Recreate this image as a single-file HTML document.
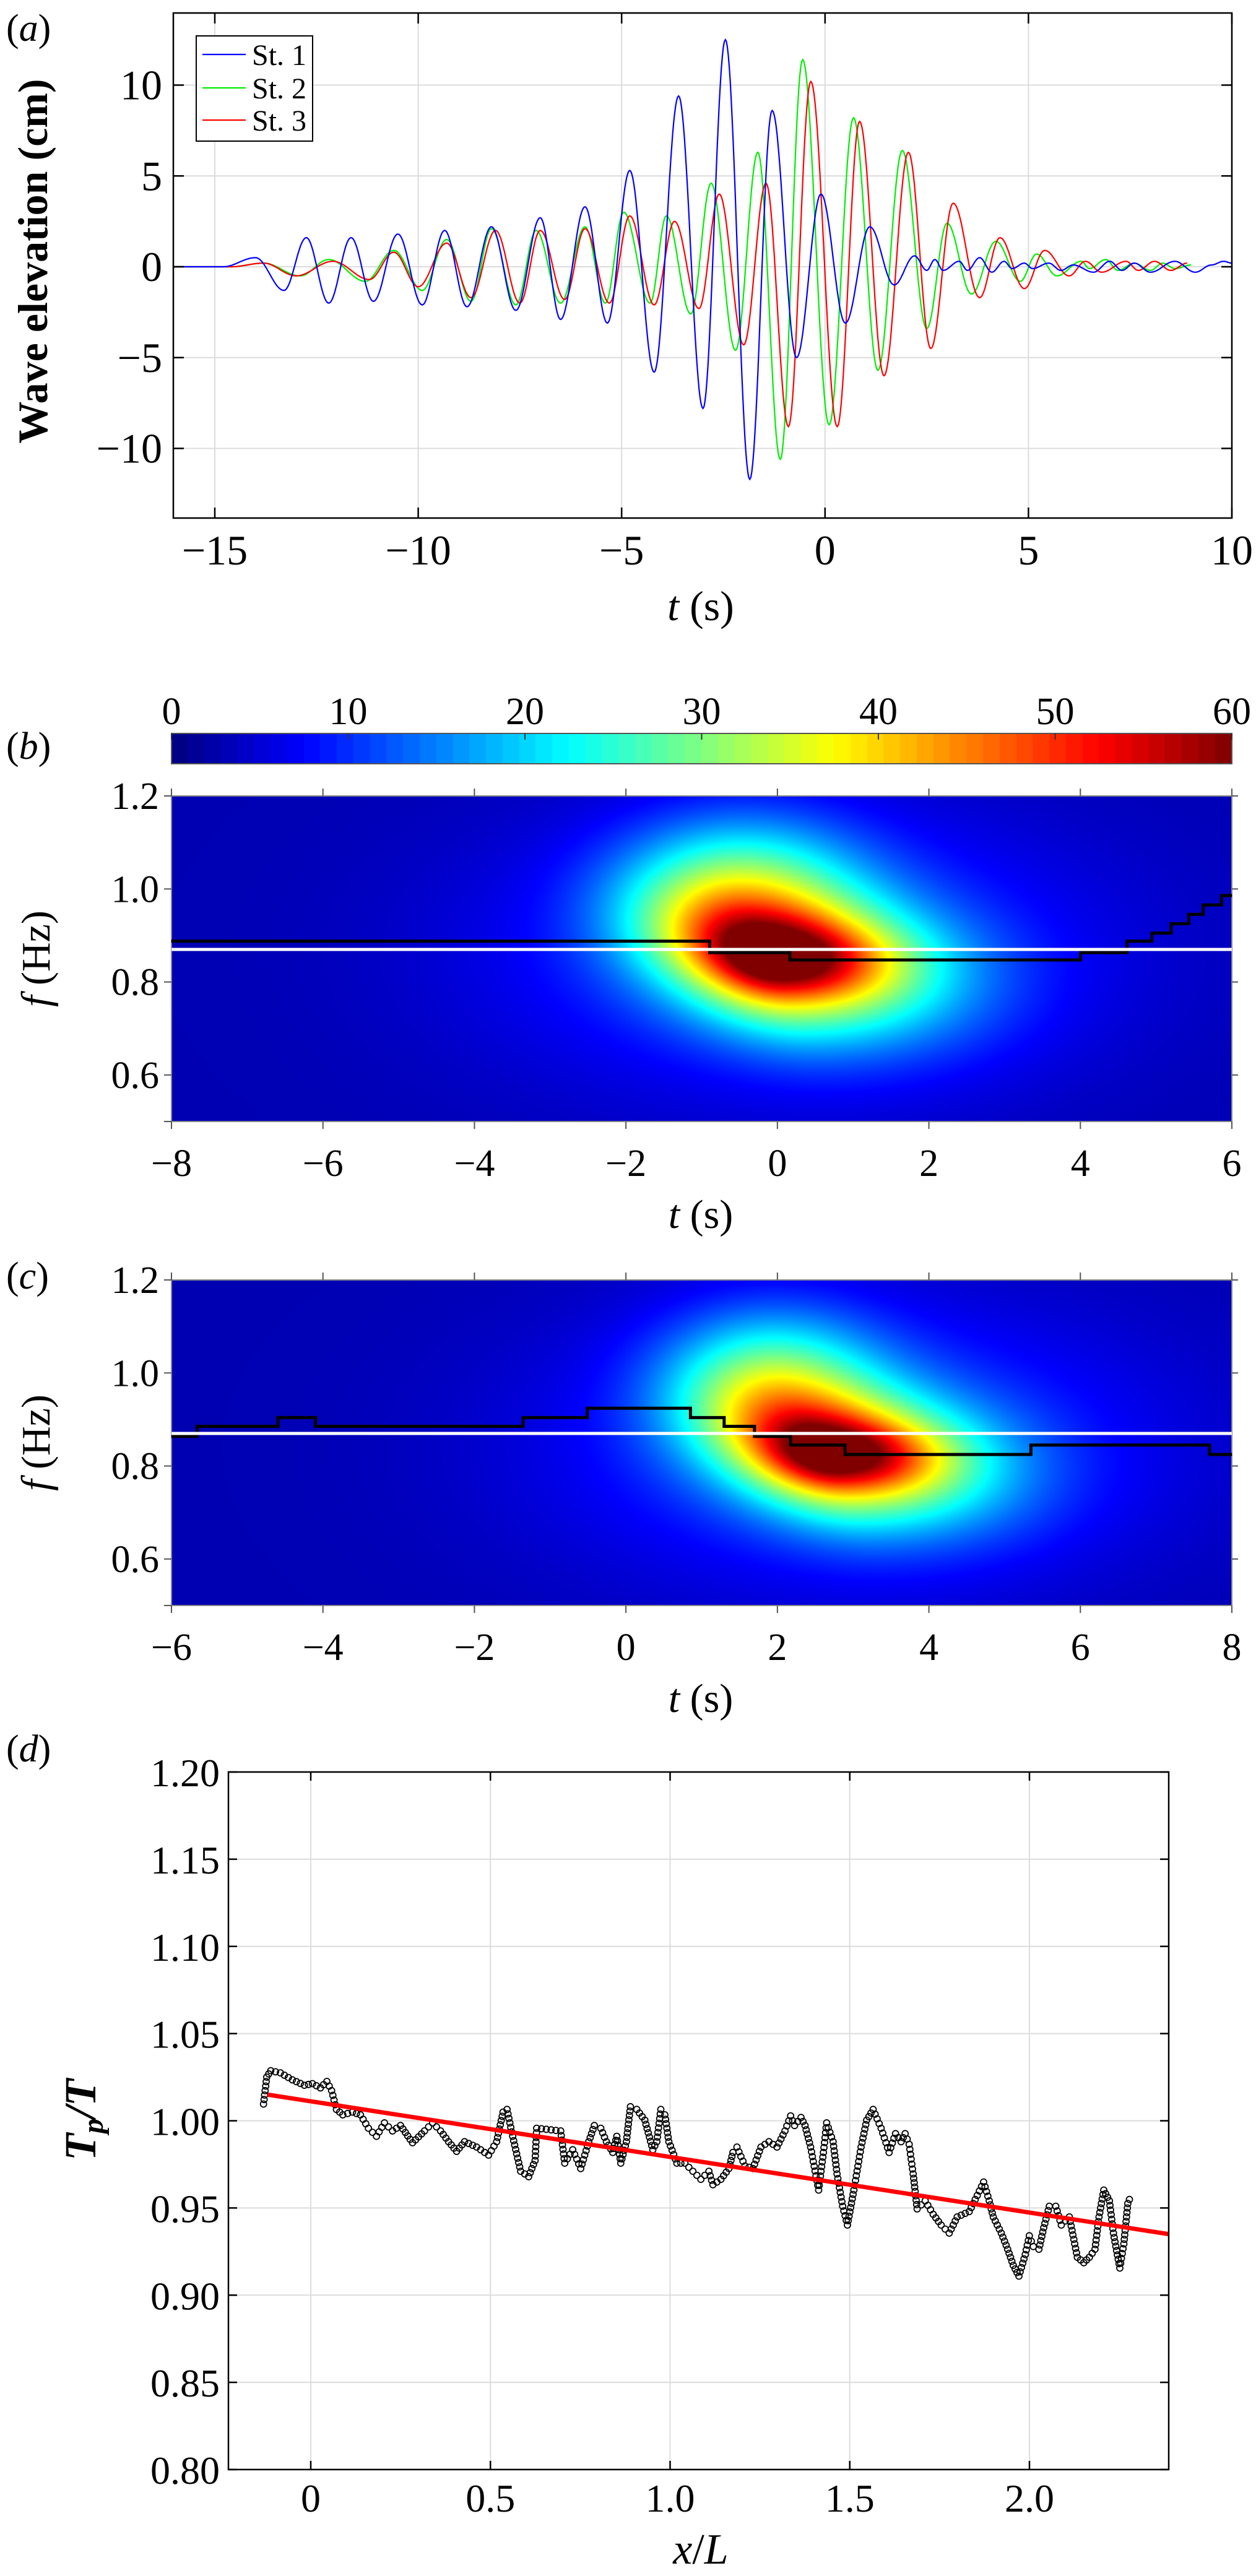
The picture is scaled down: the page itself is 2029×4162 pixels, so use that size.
<!DOCTYPE html>
<html><head><meta charset="utf-8">
<style>
html,body{margin:0;padding:0;background:#fff;}
#wrap{position:relative;width:2029px;height:4162px;overflow:hidden;}
canvas{position:absolute;}
svg{position:absolute;left:0;top:0;}
text{font-family:"Liberation Serif","DejaVu Serif",serif;fill:#000;}
</style></head><body>
<div id="wrap">
<canvas id="cb" width="1713" height="526" style="left:277px;top:1286px;"></canvas>
<canvas id="cc" width="1713" height="526" style="left:277px;top:2068px;"></canvas>
<canvas id="cbar" width="1713" height="49" style="left:277px;top:1185px;"></canvas>
<svg id="s" width="2029" height="4162" xmlns="http://www.w3.org/2000/svg"></svg>
</div>
<script>
const S=document.getElementById('s');
let out='';
function L(x1,y1,x2,y2,c,w){out+=`<line x1="${x1}" y1="${y1}" x2="${x2}" y2="${y2}" stroke="${c}" stroke-width="${w}"/>`;}
function T(x,y,s,fs,anch,extra){out+=`<text x="${x}" y="${y}" font-size="${fs}" text-anchor="${anch||'middle'}" ${extra||''}>${s}</text>`;}
function jet(v){v=Math.max(0,Math.min(1,v));let r=Math.min(4*v-1.5,-4*v+4.5),g=Math.min(4*v-0.5,-4*v+3.5),b=Math.min(4*v+0.5,-4*v+2.5);
return [255*Math.max(0,Math.min(1,r)),255*Math.max(0,Math.min(1,g)),255*Math.max(0,Math.min(1,b))];}
// ---------- Panel a ----------
const aL=280,aR=1990,aT=21,aB=837;
const ax=t=>347+(t+15)*65.72, ay=v=>431-v*29.35;
for(let t=-15;t<=10;t+=5){L(ax(t),aT,ax(t),aB,'#dcdcdc',2);}
for(let v=-10;v<=10;v+=5){L(aL,ay(v),aR,ay(v),'#dcdcdc',2);}
function smooth(ext){let pts=[];for(let i=0;i<ext.length-1;i++){const [t0,v0]=ext[i],[t1,v1]=ext[i+1];const n=Math.max(4,Math.ceil((t1-t0)*40));
for(let k=0;k<n;k++){const u=k/n;const w=(1-Math.cos(Math.PI*u))/2;pts.push([t0+(t1-t0)*u,v0+(v1-v0)*w]);}}
pts.push(ext[ext.length-1]);return pts.map(p=>ax(p[0]).toFixed(1)+','+ay(p[1]).toFixed(1)).join(' ');}
const s1=[[-16,0],[-14.8,0],[-14,0.5],[-13.3,-1.3],[-12.75,1.6],[-12.2,-2.0],[-11.65,1.6],[-11.1,-1.9],[-10.5,1.8],[-9.9,-2.1],[-9.35,2.0],[-8.8,-2.2],[-8.2,2.2],[-7.6,-2.4],[-7.0,2.7],[-6.5,-2.9],[-5.9,3.3],[-5.35,-3.1],[-4.8,5.3],[-4.2,-5.8],[-3.6,9.4],[-3.0,-7.8],[-2.45,12.5],[-1.85,-11.7],[-1.3,8.6],[-0.7,-5.0],[-0.1,4.0],[0.5,-3.1],[1.1,2.2],[1.7,-1.0],[2.2,0.6],[2.5,-0.2],[2.7,0.4],[2.9,-0.2],[3.3,0.3],[3.5,-0.2],[3.8,0.5],[4.1,-0.3],[4.4,0.3],[4.6,-0.1],[4.9,0.2],[5.1,-0.1],[5.5,0.2],[5.8,-0.2],[6.1,0.1],[6.6,-0.3],[7.0,0.3],[7.3,-0.2],[7.6,0.2],[8.0,-0.3],[8.6,0.3],[9.1,-0.3],[9.5,0.1],[9.8,0.3],[10,0.2]];
const s2=[[-16,0],[-14.6,0],[-13.8,0.2],[-12.9,-0.5],[-12.2,0.4],[-11.3,-0.8],[-10.6,0.9],[-9.9,-1.3],[-9.3,1.5],[-8.7,-1.9],[-8.2,2.1],[-7.6,-2.1],[-7.1,2.0],[-6.5,-2.0],[-5.9,2.2],[-5.4,-2.0],[-4.95,3.0],[-4.3,-2.0],[-3.9,2.8],[-3.3,-2.6],[-2.8,4.6],[-2.2,-4.6],[-1.65,6.3],[-1.1,-10.6],[-0.55,11.4],[0.1,-8.7],[0.7,8.2],[1.3,-5.7],[1.9,6.4],[2.5,-3.4],[3.0,2.4],[3.6,-1.5],[4.2,1.4],[4.8,-0.8],[5.2,0.7],[5.7,-0.5],[6.3,0.3],[6.5,-0.1],[6.9,0.4],[7.2,-0.2],[7.6,0.2],[8.0,-0.2],[8.3,0.2],[8.6,-0.1],[9.0,0.1]];
const s3=[[-16,0],[-14.6,0],[-13.8,0.2],[-13.0,-0.5],[-12.1,0.3],[-11.2,-0.7],[-10.6,0.8],[-10.0,-1.1],[-9.3,1.3],[-8.7,-1.7],[-8.1,2.0],[-7.5,-2.0],[-7.0,2.0],[-6.4,-1.8],[-5.9,2.1],[-5.3,-2.0],[-4.8,2.8],[-4.2,-2.1],[-3.7,2.5],[-3.1,-2.3],[-2.6,4.0],[-2.0,-4.3],[-1.45,4.6],[-0.9,-8.8],[-0.35,10.2],[0.3,-8.8],[0.85,8.0],[1.45,-6.0],[2.05,6.3],[2.6,-4.5],[3.15,3.5],[3.8,-1.7],[4.3,1.6],[4.9,-1.2],[5.4,0.9],[6.0,-0.5],[6.4,0.3],[6.8,-0.3],[7.4,0.3],[7.7,-0.2],[8.1,0.3],[8.5,-0.2],[8.9,0.2]];
out+=`<polyline points="${smooth(s2)}" fill="none" stroke="#00ee00" stroke-width="2.2"/>`;
out+=`<polyline points="${smooth(s3)}" fill="none" stroke="#ff0000" stroke-width="2.2"/>`;
out+=`<polyline points="${smooth(s1)}" fill="none" stroke="#0000ff" stroke-width="2.2"/>`;
out+=`<rect x="${aL}" y="${aT}" width="${aR-aL}" height="${aB-aT}" fill="none" stroke="#000" stroke-width="2.5"/>`;
for(let t=-15;t<=10;t+=5){L(ax(t),aB,ax(t),aB-17,'#000',2.5);L(ax(t),aT,ax(t),aT+17,'#000',2.5);T(ax(t),912,(t<0?'−':'')+Math.abs(t),68);}
for(let v=-10;v<=10;v+=5){L(aL,ay(v),aL+17,ay(v),'#000',2.5);L(aR,ay(v),aR-17,ay(v),'#000',2.5);T(aL-18,ay(v)+23,(v<0?'−':'')+Math.abs(v),68,'end');}
out+=`<rect x="317" y="58" width="188" height="170" fill="#fff" stroke="#000" stroke-width="2"/>`;
[['#0000ff','St. 1',88],['#00ee00','St. 2',142],['#ff0000','St. 3',194]].forEach(e=>{L(327,e[2],397,e[2],e[0],2.2);T(407,e[2]+17,e[1],48,'start');});
T(1132,1002,'<tspan font-style="italic">t</tspan> (s)',68);
out+=`<text transform="translate(76,422) rotate(-90)" font-size="68" font-weight="bold" text-anchor="middle">Wave elevation (cm)</text>`;
T(10,66,'(<tspan font-style="italic">a</tspan>)',62,'start');
// ---------- colorbar ----------
const cbx=v=>277+v*1713/60;
out+=`<rect x="277" y="1185" width="1713" height="49" fill="none" stroke="#555" stroke-width="2"/>`;
for(let v=0;v<=60;v+=10){L(cbx(v),1185,cbx(v),1195,'#333',2);T(cbx(v),1170,v,62);}
T(10,1226,'(<tspan font-style="italic">b</tspan>)',62,'start');
T(10,2082,'(<tspan font-style="italic">c</tspan>)',62,'start');
// ---------- panels b,c ----------
function specPanel(top,t0,cvs,f,steps){
 const W=1713,H=526,left=277;const tx=t=>left+(t-t0)*W/14, fy=fr=>top+(1.2-fr)*H/0.7;
 const c=document.getElementById(cvs).getContext('2d');const img=c.createImageData(W,H);
 for(let j=0;j<H;j++){const fr=1.2-j*0.7/H;for(let i=0;i<W;i++){const t=t0+i*14/W;const v=f(t,fr);const col=jet(v/60);const k=(j*W+i)*4;img.data[k]=col[0];img.data[k+1]=col[1];img.data[k+2]=col[2];img.data[k+3]=255;}}
 c.putImageData(img,0,0);
 out+=`<rect x="${left}" y="${top}" width="${W}" height="${H}" fill="none" stroke="#888" stroke-width="2"/>`;
 for(let k=0;k<=7;k++){const t=t0+2*k;const x=tx(t);L(x,top,x,top-12,'#555',2);L(x,top+H,x,top+H+12,'#555',2);T(x,top+H+88,(t<0?'−':'')+Math.abs(t),62);}
 [0.6,0.8,1.0,1.2].forEach(fr=>{L(left,fy(fr),left-12,fy(fr),'#555',2);L(left+W,fy(fr),left+W+10,fy(fr),'#555',2);T(left-20,fy(fr)+21,fr.toFixed(1),62,'end');});
 L(left,fy(0.5),left-12,fy(0.5),'#555',2);
 out+=`<polyline points="${steps.map(p=>(p[0]/0.7728).toFixed(1)+','+(1100+p[1]/0.9224).toFixed(1)).join(' ')}" fill="none" stroke="#000" stroke-width="5"/>`;
 L(left,fy(0.87),left+W,fy(0.87),'#fff',5);
 T(1132,top+H+172,'<tspan font-style="italic">t</tspan> (s)',66);
 out+=`<text transform="translate(80,${top+H/2}) rotate(-90)" font-size="66" text-anchor="middle"><tspan font-style="italic">f</tspan> (Hz)</text>`;
}
function g(x,s){return Math.exp(-x*x/(2*s*s));}
function fb(t,f){const tc=-0.1-3*(f-0.86);const st=t<tc?1.0:1.45;const sf=f<0.855?0.115:0.095;
 const tc2=0.0-2*(f-0.85);
 return 3+34*g(t-tc,st)*g(f-0.855,sf)+18*g(t-tc2,t<tc2?0.6:0.9)*g(f-0.85,0.055)+20*g(t+0.5,1.1)*g(f-1.0,0.11)+10*g(t-0.2,2.6)*g(f-0.86,0.2);}
function fc(t,f){const tc=2.7-3*(f-0.83);const st=t<tc?0.95:1.35;const sf=f<0.83?0.105:0.095;
 const tc2=2.75-2*(f-0.825);
 return 3+34*g(t-tc,st)*g(f-0.83,sf)+18*g(t-tc2,t<tc2?0.6:0.85)*g(f-0.825,0.05)+20*g(t-1.9,1.0)*g(f-0.98,0.11)+10*g(t-3,2.6)*g(f-0.84,0.2);}
const stb=[[214,388],[886,388],[886,405],[986,405],[986,416],[1349,416],[1349,405],[1407,405],[1407,388],[1438,388],[1438,376],[1462,376],[1462,362],[1484,362],[1484,348],[1502,348],[1502,334],[1525,334],[1525,320],[1538,320]];
const stc=[[214,1126],[246,1126],[246,1111],[347,1111],[347,1098],[394,1098],[394,1111],[653,1111],[653,1098],[733,1098],[733,1084],[862,1084],[862,1098],[904,1098],[904,1111],[942,1111],[942,1126],[987,1126],[987,1139],[1055,1139],[1055,1153],[1287,1153],[1287,1139],[1510,1139],[1510,1153],[1538,1153]];
specPanel(1286,-8,'cb',fb,stb);
specPanel(2068,-6,'cc',fc,stc);
{const c=document.getElementById('cbar').getContext('2d');for(let i=0;i<64;i++){const col=jet((i+0.5)/64);c.fillStyle=`rgb(${col.map(Math.round).join(',')})`;c.fillRect(Math.floor(i*1713/64),0,Math.ceil(1713/64)+1,49);}}
// ---------- Panel d ----------
const dL=369,dR=1888,dT=2863,dB=3990;
const dx=x=>502+x*580.5, dy=y=>dT+(1.2-y)*(dB-dT)/0.4;
for(let x=0;x<=2.01;x+=0.5)L(dx(x),dT,dx(x),dB,'#dcdcdc',2);
for(let k=0;k<=8;k++){const y=0.8+k*0.05;L(dL,dy(y),dR,dy(y),'#dcdcdc',2);}
const kp=[[329,690],[333,640],[338,628],[350,632],[365,645],[380,655],[390,652],[400,660],[408,648],[414,665],[420,700],[428,710],[440,705],[450,710],[460,735],[470,750],[480,725],[490,740],[500,730],[515,762],[530,740],[540,725],[550,740],[560,760],[570,778],[580,760],[595,770],[610,785],[620,760],[628,705],[633,700],[640,750],[650,815],[660,825],[668,795],[670,735],[700,740],[705,800],[715,775],[725,810],[735,760],[742,730],[750,735],[757,760],[765,780],[770,750],[775,800],[782,760],[787,695],[795,700],[805,720],[815,775],[820,760],[825,700],[830,710],[835,760],[845,800],[855,800],[865,815],[875,830],[885,815],[890,840],[900,830],[910,810],[915,780],[920,770],[930,805],[940,810],[950,770],[960,760],[970,770],[980,740],[987,712],[992,730],[1000,715],[1005,730],[1012,770],[1022,850],[1028,780],[1032,725],[1040,760],[1045,820],[1052,880],[1058,915],[1066,850],[1075,770],[1082,720],[1090,700],[1100,735],[1110,780],[1118,745],[1125,760],[1130,745],[1135,765],[1140,820],[1145,885],[1155,870],[1165,895],[1175,915],[1185,930],[1195,900],[1210,890],[1220,860],[1228,835],[1235,870],[1240,900],[1250,930],[1258,960],[1265,990],[1272,1010],[1280,970],[1285,935],[1290,955],[1297,960],[1303,920],[1310,880],[1318,880],[1325,915],[1335,900],[1345,975],[1353,985],[1360,975],[1367,960],[1372,900],[1378,850],[1385,870],[1390,930],[1398,995],[1403,950],[1408,875],[1412,860]].map(p=>[p[0]/0.7728,2800+p[1]/1.151]);
let circ='';
for(let i=0;i<kp.length-1;i++){const [x0,y0]=kp[i],[x1,y1]=kp[i+1];const d=Math.hypot(x1-x0,y1-y0);const n=Math.max(1,Math.round(d/7.5));
 for(let k=0;k<n;k++){const u=k/n;circ+=`<circle cx="${(x0+(x1-x0)*u).toFixed(1)}" cy="${(y0+(y1-y0)*u).toFixed(1)}" r="5"/>`;}}
out+=`<g fill="none" stroke="#000" stroke-width="1.8">${circ}</g>`;
L(dx(-0.12),dy(1.015),dR,dy(0.935),'#ff0000',7);
out+=`<rect x="${dL}" y="${dT}" width="${dR-dL}" height="${dB-dT}" fill="none" stroke="#000" stroke-width="2.5"/>`;
for(let k=0;k<=8;k++){const y=0.8+k*0.05;L(dL,dy(y),dL+14,dy(y),'#000',2.5);L(dR,dy(y),dR-14,dy(y),'#000',2.5);T(dL-14,dy(y)+23,y.toFixed(2),64,'end');}
['0','0.5','1.0','1.5','2.0'].forEach((s,i)=>{const x=dx(i*0.5);L(x,dB,x,dB-14,'#000',2.5);L(x,dT,x,dT+14,'#000',2.5);T(x,4058,s,64);});
T(1132,4142,'<tspan font-style="italic">x</tspan>/<tspan font-style="italic">L</tspan>',70);
out+=`<text transform="translate(154,3425) rotate(-90)" font-size="72" font-weight="bold" font-style="italic" text-anchor="middle">T<tspan font-size="48" dy="12">p</tspan><tspan dy="-12">/T</tspan></text>`;
T(10,2846,'(<tspan font-style="italic">d</tspan>)',62,'start');
S.innerHTML=out;
</script>
</body></html>
